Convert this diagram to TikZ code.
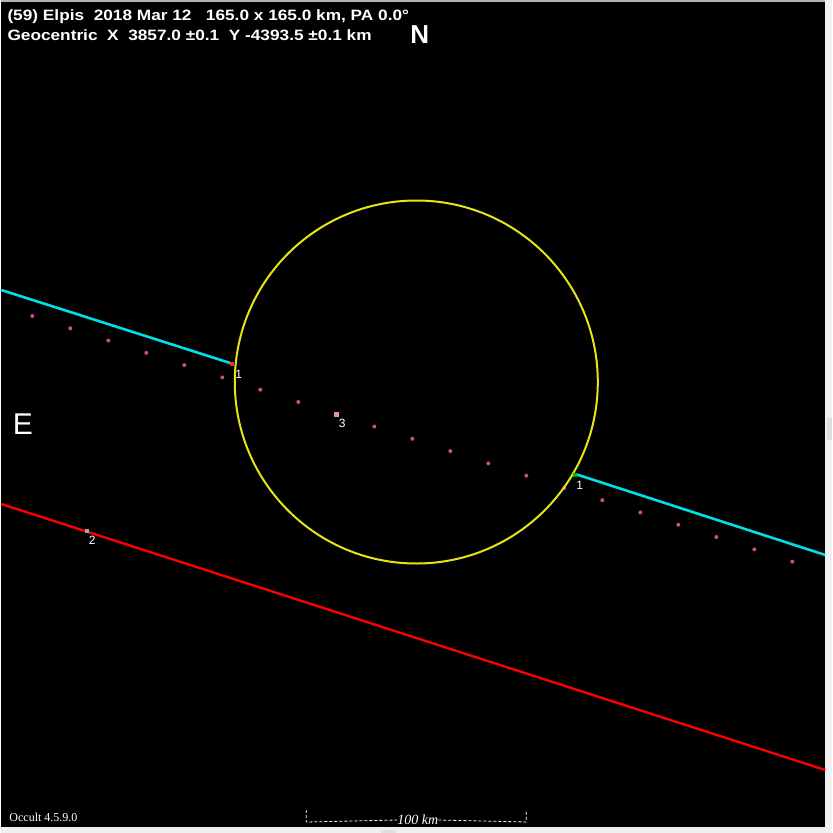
\documentclass[tikz,border=0pt]{standalone}
\usepackage{fontspec}
\setmainfont{Liberation Sans}
\newfontfamily\serifsmall{Liberation Serif}
\usepackage{tikz}
\usetikzlibrary{positioning}

\definecolor{orbityellow}{RGB}{232,228,20}
\definecolor{chordcyan}{RGB}{0,224,228}
\definecolor{pathred}{RGB}{250,0,0}
\definecolor{dotpink}{RGB}{210,72,140}
\definecolor{ctrpink}{RGB}{222,140,200}
\definecolor{frame}{RGB}{240,240,240}

\begin{document}
\begin{tikzpicture}[
  x=1pt,y=-1pt,
  chord/.style={chordcyan,line width=2.6pt},
  limb/.style={orbityellow,line width=2pt},
  miss/.style={pathred,line width=2.4pt},
  dot/.style={fill=dotpink},
  lbl/.style={text=white,inner sep=0pt,font=\fontsize{12}{13}\selectfont},
  head/.style={text=white,inner sep=0pt,anchor=base west,font=\fontsize{15}{16}\bfseries},
  dir/.style={text=white,inner sep=0pt},
  bar/.style={white,line width=0.8pt}
]
  % window and plot area
  \fill[frame] (0,0) rectangle (831,833);
  \fill[gray!60] (0,0) rectangle (824,2);
  \fill[black] (0,2) rectangle (824,827);
  \fill[gray!25] (826,418) rectangle (831,440);
  \fill[gray!25] (380,830) rectangle (395,833);

  % observed path points
  \foreach \k in {0,...,20}{
    \ifnum\k=8\else
      \fill[dot] (31+38*\k,316+12.28*\k) circle[radius=2];
    \fi
  }
  \fill[ctrpink] (332.5,411.7) rectangle (337.5,416.7);

  % chords and miss line
  \draw[chord] (0,290) -- (232,364);
  \draw[chord] (574,474) -- (824,555);
  \draw[miss] (0,504) -- (824,770);

  % asteroid outline
  \draw[limb] (415,382) circle[radius=181.5];

  % small event marks
  \fill[red!60!brown] (229,362) rectangle (233,366);
  \fill[green!70!black] (572,473) rectangle (576,477);
  \fill[gray!70] (84,529) rectangle (88,533);

  % chord labels
  \node[lbl] (lone) at (237.5,374) {1};
  \node[lbl] (rone) at (578.5,485) {1};
  \node[lbl] (mtwo) at (91,540) {2};
  \node[lbl] (cthree) at (341,423.5) {3};

  % heading
  \node[head] (title) at (6,20.5) {\scalebox{1.15}[1]{(59) Elpis\ \ 2018 Mar 12\ \ \ 165.0 x 165.0 km, PA 0.0°}};
  \node[head] (geo) at (6,40.5) {\scalebox{1.15}[1]{Geocentric\ \ X\ \ 3857.0 ±0.1\ \ Y -4393.5 ±0.1 km}};
  \node[dir,font=\fontsize{26}{27}\bfseries] (north) at (418.5,35) {N};
  \node[dir,font=\fontsize{30}{32}\selectfont] (east) at (21.5,424.5) {E};

  % version and scale bar
  \node[text=white,inner sep=0pt,anchor=base west,font=\serifsmall\fontsize{12}{13}\selectfont] (ver) at (8,821) {Occult 4.5.9.0};
  \node[text=white,inner sep=0pt,font=\serifsmall\itshape\fontsize{14}{15}\selectfont] (scl) at (416.5,820) {100 km};
  \draw[bar,dashed,dash pattern=on 3pt off 2pt] (305,810) -- (305,822) -- (scl.west);
  \draw[bar,dashed,dash pattern=on 3pt off 2pt] (scl.east) -- (525,822) -- (525,810);
\end{tikzpicture}
\end{document}
